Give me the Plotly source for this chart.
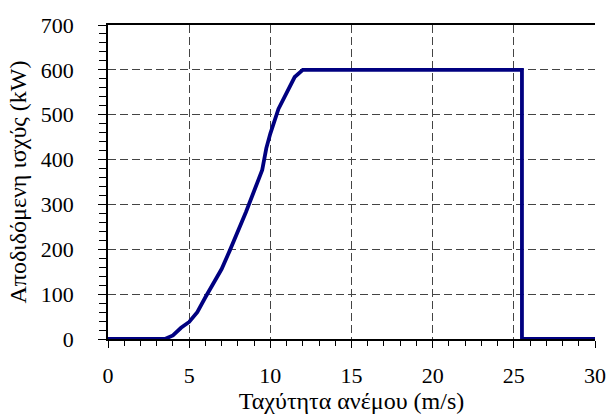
import plotly.graph_objects as go

# Wind speed (m/s) and delivered power (kW)
wind_speed = [0, 0.5, 1, 1.5, 2, 2.5, 3, 3.5, 4, 4.5, 5, 5.5, 6, 6.5, 7, 7.5, 8, 8.5,
              9, 9.5, 9.75, 10, 10.5, 11, 11.5, 12, 13, 14, 15, 16, 17, 18, 19, 20, 21,
              22, 23, 24, 25, 25.5, 25.5, 26, 27, 28, 29, 30]
power_kw = [0, 0, 0, 0, 0, 0, 0, 0, 8, 25, 38, 60, 93, 125, 156, 197, 238, 283,
            330, 377, 425, 458, 513, 547, 584, 600, 600, 600, 600, 600, 600, 600, 600, 600, 600,
            600, 600, 600, 600, 600, 0, 0, 0, 0, 0, 0]

x_ticks = [0, 5, 10, 15, 20, 25, 30]
y_ticks = [0, 100, 200, 300, 400, 500, 600, 700]

FONT = "Liberation Serif"

fig = go.Figure()
fig.add_trace(go.Scatter(
    x=wind_speed, y=power_kw, mode="lines",
    line=dict(color="#000080", width=3.8),
    cliponaxis=False, showlegend=False,
))

fig.update_layout(
    width=609, height=414,
    margin=dict(l=108, r=14, t=25, b=75),
    paper_bgcolor="white", plot_bgcolor="white",
    font=dict(family=FONT, size=20),
    xaxis=dict(
        title=dict(text="Ταχύτητα ανέμου (m/s)", standoff=7),
        range=[0, 30], tickvals=x_ticks, ticks="outside", ticklen=7, tickwidth=1,
        tickcolor="black", showline=True, linecolor="black", linewidth=1.5,
        mirror=True, showgrid=True, gridcolor="#444444", gridwidth=1,
        griddash="8px,4px", zeroline=False, ticklabelstandoff=9,
        tickfont=dict(size=22), automargin=False,
        minor=dict(dtick=1, ticks="outside", ticklen=5, tickcolor="black", showgrid=False),
    ),
    yaxis=dict(
        title=dict(text="Αποδιδόμενη ισχύς (kW)", standoff=7),
        range=[0, 700], tickvals=y_ticks, ticks="outside", ticklen=8, tickwidth=1,
        tickcolor="black", showline=True, linecolor="black", linewidth=1.5,
        showgrid=True, gridcolor="#444444", gridwidth=1, griddash="8px,4px",
        zeroline=False, ticklabelstandoff=20,
        tickfont=dict(size=22), automargin=False,
        minor=dict(dtick=20, ticks="outside", ticklen=7, tickcolor="black", showgrid=False),
    ),
)
fig.update_layout(font_color="black")

fig.write_html("out.html")
